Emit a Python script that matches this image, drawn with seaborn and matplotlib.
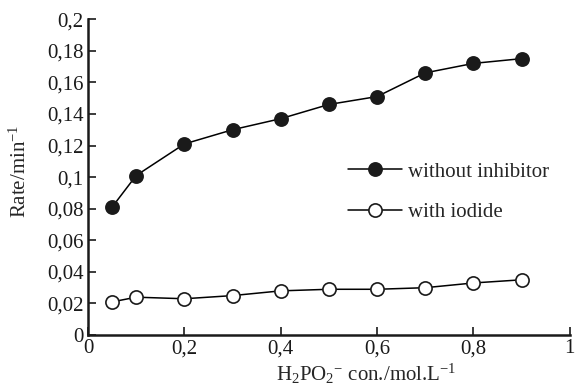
import matplotlib
matplotlib.use('Agg')
import matplotlib.pyplot as plt
import pandas as pd
import seaborn as sns
from matplotlib.ticker import FuncFormatter

# values
conc = [0.05, 0.1, 0.2, 0.3, 0.4, 0.5, 0.6, 0.7, 0.8, 0.9]
rate_without = [0.081, 0.101, 0.121, 0.130, 0.137, 0.146, 0.151, 0.166, 0.172, 0.175]
rate_iodide = [0.021, 0.024, 0.023, 0.025, 0.028, 0.029, 0.029, 0.030, 0.033, 0.035]
labels = ['without inhibitor', 'with iodide']

sns.set_style('ticks')
plt.rcParams['font.family'] = ['Liberation Serif', 'DejaVu Serif']
plt.rcParams['mathtext.fontset'] = 'custom'
plt.rcParams['mathtext.rm'] = 'Liberation Serif'
plt.rcParams['mathtext.it'] = 'Liberation Serif:italic'

data = pd.DataFrame({
    'conc': conc * 2,
    'rate': rate_without + rate_iodide,
    'series': [labels[0]] * len(conc) + [labels[1]] * len(conc),
})

fig = plt.figure(figsize=(5.75, 3.91), dpi=100)
ax = fig.add_axes([0.153, 0.143, 0.838, 0.808])

for name, face in zip(labels, ['#1a1a1a', 'white']):
    sub = data[data['series'] == name]
    sns.lineplot(data=sub, x='conc', y='rate', ax=ax, color='black', linewidth=1.1,
                 marker='o', markersize=9.5, markerfacecolor=face,
                 markeredgecolor='#1a1a1a', markeredgewidth=1.2, label=name)

ax.set_xlim(0, 1)
ax.set_ylim(0, 0.2)
ax.set_xticks([0, 0.2, 0.4, 0.6, 0.8, 1])
ax.set_yticks([0, 0.02, 0.04, 0.06, 0.08, 0.1, 0.12, 0.14, 0.16, 0.18, 0.2])
fmt = FuncFormatter(lambda v, p: ('%g' % round(v, 3)).replace('.', ','))
ax.xaxis.set_major_formatter(fmt)
ax.yaxis.set_major_formatter(fmt)
ax.tick_params(direction='in', length=6, width=1.2, labelsize=15, colors='#1a1a1a', pad=3)
for side in ['top', 'right']:
    ax.spines[side].set_visible(False)
for side in ['left', 'bottom']:
    ax.spines[side].set_linewidth(1.8)
    ax.spines[side].set_color('#1a1a1a')

ax.set_xlabel(r'H$_2$PO$_2$$^{-}$ con./mol.L$^{-1}$', fontsize=15)
ax.set_ylabel(r'Rate/min$^{-1}$', fontsize=15)
ax.xaxis.set_label_coords(0.577, -0.085)
ax.yaxis.set_label_coords(-0.118, 0.52)

ax.legend(loc='center left', bbox_to_anchor=(0.50, 0.453), frameon=False,
          fontsize=15, handlelength=2.6, handletextpad=0.3, labelspacing=1.0)

fig.savefig('out.png', dpi=100)
